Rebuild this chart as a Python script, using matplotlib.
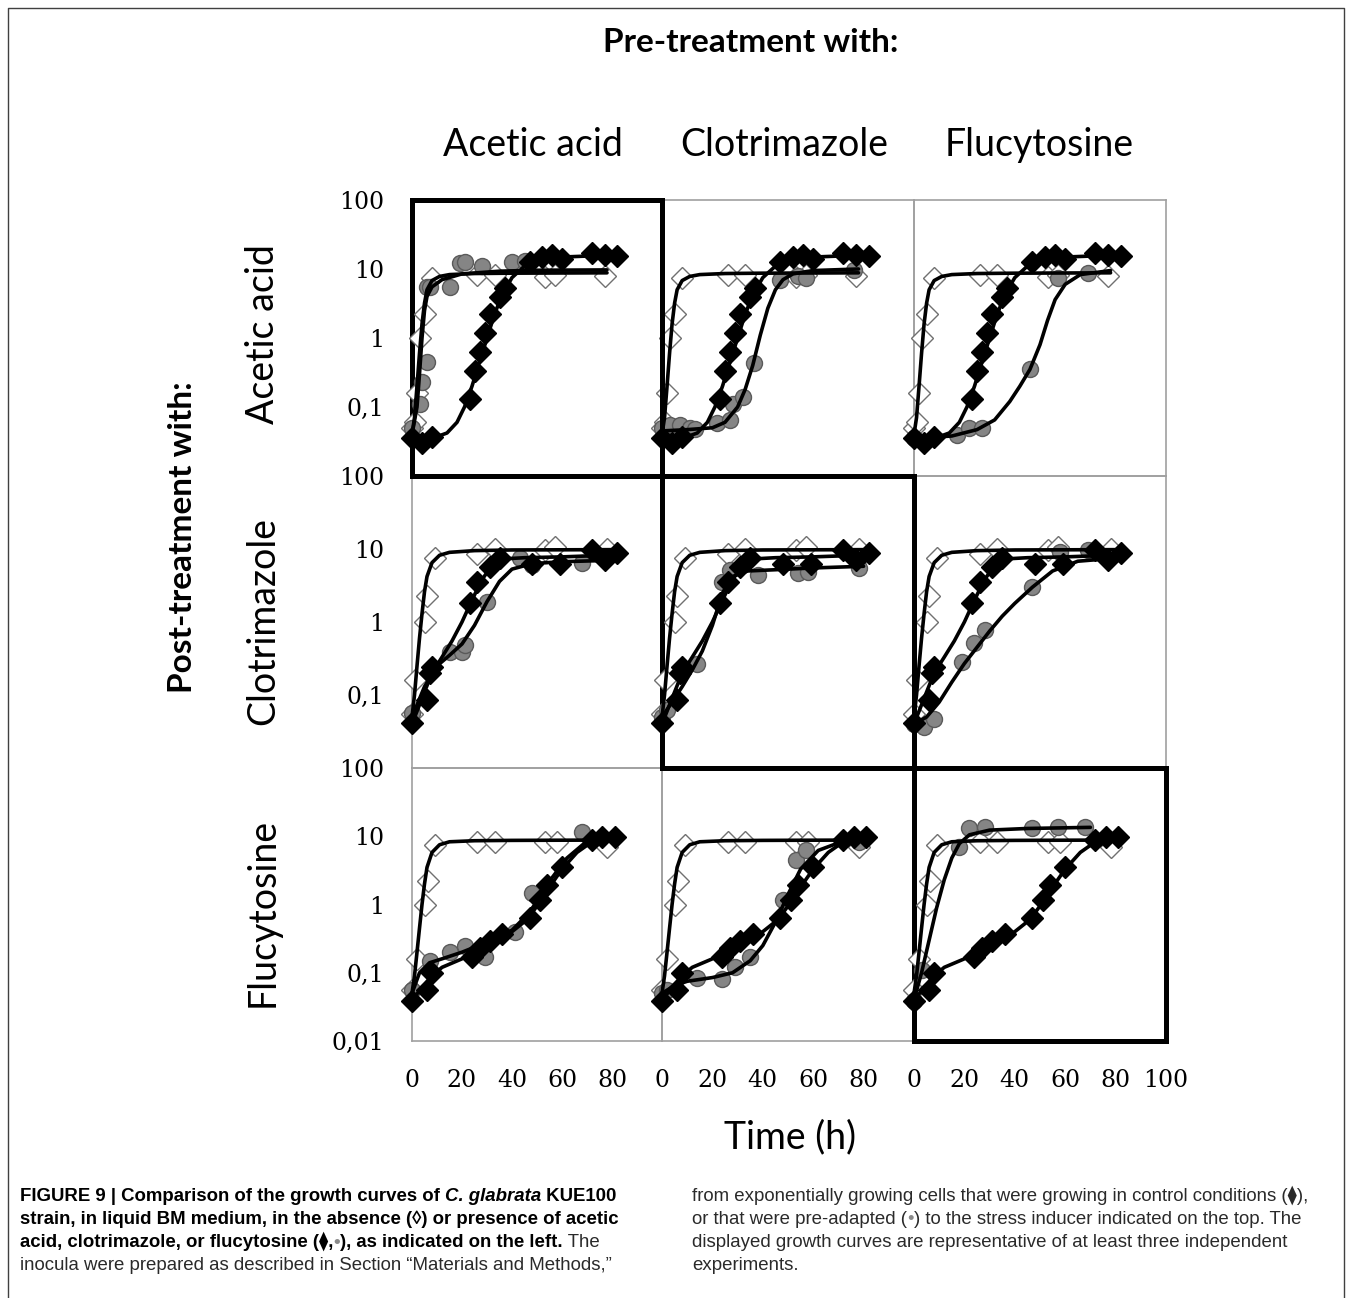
import matplotlib
matplotlib.use("Agg")
import matplotlib.pyplot as plt
from matplotlib.ticker import NullLocator

W, H = 1352, 1298

treatments = ["Acetic acid", "Clotrimazole", "Flucytosine"]

# --- absence of stress (open diamonds), one set per post-treatment row
open_t = [
    [0, 1, 2, 3, 5, 8, 26, 33, 53, 57, 77],
    [0, 1, 5, 6, 9, 26, 33, 53, 57, 78],
    [0, 2, 5, 6.5, 9, 26, 33, 53, 58, 78],
]
open_od = [
    [0.05, 0.06, 0.16, 1.0, 2.2, 7.4, 8.2, 8.2, 7.6, 8.2, 7.8],
    [0.055, 0.16, 1.0, 2.3, 7.6, 8.5, 10, 9.8, 10.5, 10],
    [0.055, 0.16, 1.0, 2.2, 7.4, 8.2, 8.2, 8.2, 8.2, 7.0],
]
open_fit_t = [
    [0, 1, 2, 3, 4, 5, 6, 8, 11, 15, 25, 40, 78],
    [0, 1, 2, 3, 4, 5, 6, 8, 11, 15, 25, 40, 80],
    [0, 1, 2, 3, 4, 5, 6, 8, 11, 15, 25, 40, 80],
]
open_fit_od = [
    [0.04, 0.07, 0.2, 0.6, 1.6, 3.2, 5.0, 6.8, 7.8, 8.3, 8.6, 8.7, 8.8],
    [0.05, 0.1, 0.25, 0.6, 1.3, 2.6, 4.2, 6.5, 8.2, 9.0, 9.5, 9.7, 9.8],
    [0.05, 0.09, 0.2, 0.45, 1.0, 2.0, 3.5, 5.8, 7.5, 8.3, 8.6, 8.7, 8.8],
]

# --- control-grown inoculum in presence of stress (black diamonds)
black_t = [
    [0, 4, 8, 23, 25, 27, 29, 31, 35, 37, 47, 52, 56, 60, 72, 77, 82],
    [0, 6, 7, 8, 23, 26, 31, 35, 48, 59, 72, 77, 82],
    [0, 6, 8, 24, 27, 31, 36, 47, 51, 54, 60, 72, 76, 81],
]
black_od = [
    [0.035, 0.03, 0.037, 0.13, 0.33, 0.62, 1.2, 2.2, 3.9, 5.3, 12.6, 15, 16, 14, 17, 16, 15.5],
    [0.042, 0.085, 0.2, 0.24, 1.8, 3.5, 5.7, 7.6, 6.2, 6.2, 9.7, 7.1, 8.8],
    [0.039, 0.055, 0.1, 0.17, 0.23, 0.29, 0.37, 0.64, 1.15, 1.9, 3.5, 8.7, 9.7, 9.7],
]
black_fit_t = [
    [0, 8, 14, 18, 21, 24, 27, 30, 33, 36, 40, 45, 52, 62, 82],
    [0, 4, 8, 12, 16, 20, 24, 28, 32, 36, 45, 60, 82],
    [0, 4, 8, 12, 20, 30, 40, 46, 50, 55, 60, 66, 72, 82],
]
black_fit_od = [
    [0.033, 0.035, 0.042, 0.06, 0.1, 0.2, 0.45, 1.0, 2.2, 4.2, 7.5, 11, 13.5, 15, 16],
    [0.04, 0.09, 0.2, 0.33, 0.55, 1.0, 2.0, 3.8, 6.0, 7.3, 7.6, 7.8, 8.3],
    [0.04, 0.06, 0.09, 0.12, 0.16, 0.25, 0.4, 0.6, 0.95, 1.8, 3.3, 5.8, 8.3, 9.8],
]

# --- pre-adapted inoculum (grey circles), [row][col]
circ_t = [
    [[0, 3, 4, 6, 6, 7, 15, 19, 21, 28, 40, 45],
     [0, 3, 7, 11, 13, 22, 27, 28, 32, 36.5, 47, 54, 57, 76],
     [0, 17, 22, 27, 46, 57, 69]],
    [[0, 15, 20, 21, 30, 43, 48, 68],
     [0, 2, 14, 24, 27, 38, 54, 58, 78],
     [0, 4, 8, 19, 24, 28, 47, 58, 69]],
    [[0, 7, 15, 21, 29, 41, 48, 68],
     [0, 2, 14, 24, 29, 35, 48, 53, 57, 78],
     [0, 3, 18, 22, 28, 47, 57, 68]],
]
circ_od = [
    [[0.05, 0.11, 0.23, 0.45, 5.5, 5.5, 5.5, 12.3, 12.6, 11, 12.5, 13],
     [0.05, 0.055, 0.055, 0.05, 0.048, 0.058, 0.065, 0.11, 0.14, 0.43, 7, 8, 7.4, 9.7],
     [0.035, 0.039, 0.049, 0.05, 0.35, 7.4, 8.7]],
    [[0.056, 0.39, 0.39, 0.48, 1.9, 7.6, 6.0, 6.5],
     [0.05, 0.063, 0.27, 3.5, 5.2, 4.4, 4.7, 4.9, 5.5],
     [0.04, 0.036, 0.047, 0.28, 0.51, 0.78, 3.0, 9.0, 9.7]],
    [[0.055, 0.15, 0.2, 0.25, 0.17, 0.39, 1.45, 11.5],
     [0.05, 0.055, 0.085, 0.08, 0.12, 0.17, 1.15, 4.5, 6.2, 8.2],
     [0.039, 0.11, 6.9, 13, 13.5, 13, 13.5, 13.5]],
]
circ_fit_t = [
    [[0, 2, 3, 4, 5, 6, 8, 12, 20, 35, 50, 78],
     [0, 10, 20, 25, 30, 33, 36, 39, 42, 45, 48, 52, 60, 78],
     [0, 15, 25, 32, 38, 42, 46, 50, 53, 56, 60, 66, 78]],
    [[0, 5, 10, 15, 20, 25, 30, 35, 40, 48, 60, 80],
     [0, 4, 8, 12, 16, 20, 24, 28, 34, 45, 60, 80],
     [0, 5, 10, 15, 20, 25, 30, 35, 40, 47, 55, 65, 80]],
    [[0, 3, 7, 12, 20, 30, 40, 46, 50, 55, 62, 70, 78],
     [0, 5, 10, 20, 28, 35, 40, 45, 50, 55, 62, 72, 78],
     [0, 3, 6, 9, 12, 15, 18, 22, 30, 45, 70]],
]
circ_fit_od = [
    [[0.04, 0.1, 0.3, 1.0, 2.5, 4.0, 5.5, 7.0, 8.5, 9.3, 9.6, 9.7],
     [0.045, 0.047, 0.05, 0.06, 0.1, 0.18, 0.4, 1.1, 2.7, 5.0, 7.0, 8.5, 9.5, 10],
     [0.035, 0.038, 0.047, 0.065, 0.12, 0.2, 0.35, 0.8, 1.8, 3.6, 6.0, 8.3, 9.5]],
    [[0.05, 0.13, 0.25, 0.35, 0.5, 0.9, 1.9, 3.6, 5.3, 6.3, 6.7, 7.0],
     [0.05, 0.08, 0.13, 0.22, 0.4, 0.9, 2.5, 4.2, 5.0, 5.2, 5.5, 5.8],
     [0.04, 0.05, 0.08, 0.15, 0.27, 0.45, 0.75, 1.2, 1.8, 3.0, 5.0, 6.8, 7.5]],
    [[0.05, 0.1, 0.14, 0.16, 0.2, 0.28, 0.42, 0.7, 1.1, 2.2, 4.8, 8.5, 10],
     [0.05, 0.065, 0.075, 0.085, 0.1, 0.15, 0.25, 0.55, 1.4, 3.3, 6.2, 8.5, 9.0],
     [0.04, 0.1, 0.3, 0.9, 2.3, 4.8, 7.8, 10.5, 12.3, 13, 13.5]],
]

ytick_vals = [100, 10, 1, 0.1, 0.01]
ytick_text = ["100", "10", "1", "0,1", "0,01"]
xtick_vals = [0, 20, 40, 60, 80, 100]

# panel edges in pixels
col_edges = [412, 662, 914, 1166]
row_edges = [200, 476, 768, 1041]

fig = plt.figure(figsize=(W / 100, H / 100), dpi=100)
fig.patch.set_facecolor("white")

# background layer in pixel coordinates (frame + caption)
bg = fig.add_axes([0, 0, 1, 1])
bg.set_xlim(0, W)
bg.set_ylim(H, 0)
bg.set_axis_off()
bg.set_zorder(-1)
bg.plot([8, 8, 1344, 1344], [1300, 8, 8, 1300], color="#404040", lw=1.0)

for r in range(3):
    for c in range(3):
        x0, x1 = col_edges[c], col_edges[c + 1]
        y0, y1 = row_edges[r], row_edges[r + 1]
        ax = fig.add_axes([x0 / W, 1 - y1 / H, (x1 - x0) / W, (y1 - y0) / H])
        ax.set_facecolor("none")
        ax.set_yscale("log")
        ax.set_xlim(0, 100)
        ax.set_ylim(0.01, 100)

        ax.plot(open_t[r], open_od[r], ls="none", marker="D", ms=11, mfc="white",
                mec="#707070", mew=1.0, clip_on=False, zorder=3)
        ax.plot(circ_t[r][c], circ_od[r][c], ls="none", marker="o", ms=11.5,
                mfc="#858585", mec="#5a5a5a", mew=1.0, clip_on=False, zorder=3)
        ax.plot(black_t[r], black_od[r], ls="none", marker="D", ms=11, mfc="black",
                mec="black", clip_on=False, zorder=4)
        for ft, fo in [(open_fit_t[r], open_fit_od[r]),
                       (black_fit_t[r], black_fit_od[r]),
                       (circ_fit_t[r][c], circ_fit_od[r][c])]:
            ax.plot(ft, fo, color="black", lw=2.6, solid_joinstyle="round",
                    solid_capstyle="round", clip_on=False, zorder=5)

        ax.tick_params(length=0, labelsize=17)
        ax.yaxis.set_minor_locator(NullLocator())
        ax.xaxis.set_minor_locator(NullLocator())
        if c == 0:
            n = 5 if r == 2 else 4
            ax.set_yticks(ytick_vals[:n])
            ax.set_yticklabels(ytick_text[:n], fontfamily="DejaVu Serif")
            ax.tick_params(axis="y", pad=20)
        else:
            ax.set_yticks([])
        if r == 2:
            xv = xtick_vals if c == 2 else xtick_vals[:5]
            ax.set_xticks(xv)
            ax.set_xticklabels([str(v) for v in xv], fontfamily="DejaVu Serif")
            ax.tick_params(axis="x", pad=20)
        else:
            ax.set_xticks([])

        if r == c:
            ax.set_zorder(2)
            for s in ax.spines.values():
                s.set_color("black")
                s.set_linewidth(3.6)
        else:
            for s in ax.spines.values():
                s.set_color("#a0a0a0")
                s.set_linewidth(1.2)

# headings
fig.text(751 / W, 1 - 42 / H, "Pre-treatment with:", ha="center", va="center",
         fontfamily="Lato", fontweight="bold", fontsize=24)
for name, cx in zip(treatments, [533, 784, 1039]):
    fig.text(cx / W, 1 - 145 / H, name, ha="center", va="center",
             fontfamily="Lato", fontsize=27)
for name, cy in zip(treatments, [334, 621, 912]):
    fig.text(263 / W, 1 - cy / H, name, ha="center", va="center", rotation=90,
             fontfamily="Lato", fontsize=27)
fig.text(183 / W, 1 - 537 / H, "Post-treatment with:", ha="center", va="center",
         rotation=90, fontfamily="Lato", fontweight="bold", fontsize=24)
fig.text(790 / W, 1 - 1137 / H, "Time (h)", ha="center", va="center",
         fontfamily="Lato", fontsize=27)

# caption
fam = ["Liberation Sans", "DejaVu Sans"]
B = dict(fontweight="bold", color="black")
BI = dict(fontweight="bold", fontstyle="italic", color="black")
BG = dict(fontweight="bold", color="#8a8a8a")
R = dict(color="#2a2a2a")
G = dict(color="#8a8a8a")


def caption_line(x, y, pieces):
    prev = None
    for txt, kw in pieces:
        if prev is None:
            prev = bg.text(x, y, txt, va="bottom", ha="left", family=fam,
                           fontsize=13.4, **kw)
        else:
            prev = bg.annotate(txt, xy=(1, 0), xycoords=prev, va="bottom",
                               ha="left", family=fam, fontsize=13.4, **kw)


left_lines = [
    [("FIGURE 9 | Comparison of the growth curves of ", B), ("C. glabrata", BI), (" KUE100", B)],
    [("strain, in liquid BM medium, in the absence (\u25ca) or presence of acetic", B)],
    [("acid, clotrimazole, or flucytosine (\u29eb,", B), ("\u2022", BG),
     ("), as indicated on the left.", B), (" The", R)],
    [("inocula were prepared as described in Section \u201cMaterials and Methods,\u201d", R)],
]
right_lines = [
    [("from exponentially growing cells that were growing in control conditions (\u29eb),", R)],
    [("or that were pre-adapted (", R), ("\u2022", G),
     (") to the stress inducer indicated on the top. The", R)],
    [("displayed growth curves are representative of at least three independent", R)],
    [("experiments.", R)],
]
for i, pieces in enumerate(left_lines):
    caption_line(20, 1205 + 23 * i, pieces)
for i, pieces in enumerate(right_lines):
    caption_line(692, 1205 + 23 * i, pieces)

fig.savefig("out.png", dpi=100, facecolor="white")
